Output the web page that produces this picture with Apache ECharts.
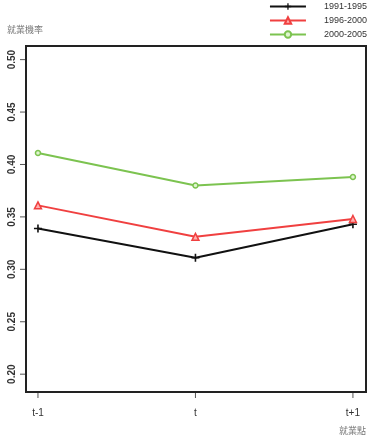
<!DOCTYPE html>
<html>
<head>
<meta charset="utf-8">
<script src="https://cdn.jsdelivr.net/npm/echarts@6/dist/echarts.min.js"></script>
<style>
body{margin:0;background:#fff;}
#main{width:373px;height:439px;}
</style>
</head>
<body>
<div id="main"></div>
<script>
var xLabels = ['t-1', 't', 't+1'];
var seriesNames = ['1991-1995', '1996-2000', '2000-2005'];
var s1 = [0.339, 0.311, 0.343];
var s2 = [0.361, 0.331, 0.348];
var s3 = [0.411, 0.380, 0.388];
var xTicks = [0, 1, 2];
var yTicks = [0.20, 0.25, 0.30, 0.35, 0.40, 0.45, 0.50];

var plus = 'path://M4,0L6,0L6,4L10,4L10,6L6,6L6,10L4,10L4,6L0,6L0,4L4,4Z';

function toPts(arr){
	var out = [];
	for(var i=0;i<arr.length;i++){
		out.push([i, arr[i]]);
	}
	return out;
}

var myChart = echarts.init(document.getElementById('main'));
var option = {
	animation: false,
	legend: {
		orient: 'vertical',
		right: 1,
		top: -3,
		itemWidth: 36,
		itemHeight: 8,
		itemGap: 5,
		textStyle: { fontSize: 9, color: '#333', fontFamily: 'Liberation Sans', padding: [0, 0, 0, 13] },
		data: seriesNames
	},
	grid: {
		left: 26, right: 7, top: 46, bottom: 47,
		outerBoundsMode: 'none',
		show: true, borderColor: '#222', borderWidth: 2
	},
	xAxis: {
		type: 'value',
		min: -0.076, max: 2.083,
		name: '就業點',
		nameLocation: 'end',
		nameGap: 0,
		nameTextStyle: { fontSize: 9, color: '#777', align: 'right', verticalAlign: 'top', padding: [34, 0, 0, 0], fontFamily: 'Noto Sans CJK TC' },
		splitLine: { show: false },
		axisLine: { show: false, onZero: false },
		axisTick: { show: false },
		axisLabel: {
			customValues: xTicks,
			margin: 16,
			fontSize: 10, color: '#333', fontFamily: 'Liberation Sans',
			formatter: function(v){ return xLabels[Math.round(v)]; }
		}
	},
	yAxis: {
		type: 'value',
		min: 0.183, max: 0.513,
		name: '就業機率',
		nameLocation: 'end',
		nameGap: 12,
		nameTextStyle: { fontSize: 9, color: '#777', align: 'left', padding: [0, 0, 0, -19], fontFamily: 'Noto Sans CJK TC' },
		splitLine: { show: false },
		axisLine: { show: false, onZero: false },
		axisTick: { show: false },
		axisLabel: {
			customValues: yTicks,
			rotate: 90,
			margin: 9,
			fontSize: 10, fontWeight: 'bold', color: '#333', fontFamily: 'Liberation Sans',
			formatter: function(v){ return v.toFixed(2); }
		}
	},
	series: [
		{
			name: seriesNames[0], type: 'line', data: toPts(s1),
			symbol: plus, symbolSize: 8,
			lineStyle: { color: '#111', width: 2 },
			itemStyle: { color: '#111', borderWidth: 0 }
		},
		{
			name: seriesNames[1], type: 'line', data: toPts(s2),
			symbol: 'triangle', symbolSize: 7,
			lineStyle: { color: '#f04040', width: 2 },
			itemStyle: { color: '#ffb0b0', borderColor: '#f04040', borderWidth: 1.5 }
		},
		{
			name: seriesNames[2], type: 'line', data: toPts(s3),
			symbol: 'circle', symbolSize: 5,
			lineStyle: { color: '#7cc350', width: 2 },
			itemStyle: { color: '#e0f5d0', borderColor: '#7cc350', borderWidth: 1.5 }
		}
	]
};
myChart.setOption(option);

// tick marks outside the box, placed through the chart's own scales
var ticks = [];
var yMin = myChart.convertToPixel({gridIndex: 0}, [-0.076, 0.183]);
for(var i=0;i<yTicks.length;i++){
	var p = myChart.convertToPixel({gridIndex: 0}, [-0.076, yTicks[i]]);
	ticks.push({ type: 'line', shape: { x1: p[0] - 6, y1: p[1], x2: p[0] - 1, y2: p[1] }, style: { stroke: '#555', lineWidth: 1 } });
}
for(var j=0;j<xTicks.length;j++){
	var q = myChart.convertToPixel({gridIndex: 0}, [xTicks[j], 0.183]);
	ticks.push({ type: 'line', shape: { x1: q[0], y1: q[1] + 1, x2: q[0], y2: q[1] + 6 }, style: { stroke: '#555', lineWidth: 1 } });
}
myChart.setOption({ graphic: ticks });
</script>
</body>
</html>
